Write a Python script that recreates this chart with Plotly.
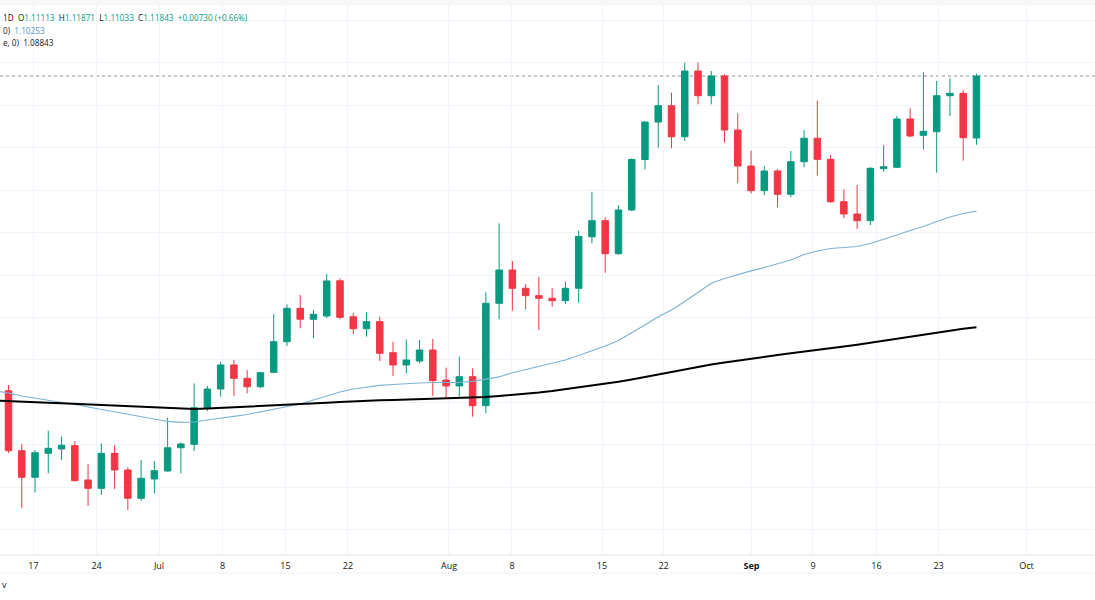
import plotly.graph_objects as go
import pandas as pd

# ---------------- data ----------------
dates = [d.strftime("%Y-%m-%d") for d in pd.bdate_range("2024-06-12", "2024-09-24")]

open_ = [1.07460,
         1.08138, 1.07432, 1.07119, 1.07401, 1.07452, 1.07491, 1.07087, 1.06989, 1.07401, 1.07205,
         1.06872, 1.07099, 1.07193, 1.07467, 1.07507, 1.07938, 1.08158, 1.08441, 1.08284, 1.08185,
         1.08355, 1.08715, 1.09108, 1.08979, 1.09018, 1.09433, 1.09009, 1.08868, 1.08951, 1.08586,
         1.08441, 1.08488, 1.08617, 1.08264, 1.08194, 1.08303, 1.07962, 1.09167, 1.09559, 1.09344,
         1.09257, 1.09226, 1.09198, 1.09344, 1.09951, 1.10140, 1.09751, 1.10266, 1.10860, 1.11301,
         1.11493, 1.11128, 1.11902, 1.11611, 1.11843, 1.11207, 1.10783, 1.10493, 1.10725, 1.10450,
         1.10834, 1.11110, 1.10862, 1.10363, 1.10218, 1.10140, 1.10752, 1.10768, 1.11337, 1.11145,
         1.11187, 1.11611, 1.11639, 1.11113]
high = [1.08220,
        1.08205, 1.07511, 1.07440, 1.07667, 1.07597, 1.07546, 1.07275, 1.07519, 1.07499, 1.07237,
        1.07323, 1.07311, 1.07820, 1.07531, 1.08225, 1.08194, 1.08480, 1.08500, 1.08382, 1.08362,
        1.09038, 1.09155, 1.09265, 1.09088, 1.09512, 1.09460, 1.09056, 1.09061, 1.09009, 1.08715,
        1.08743, 1.08735, 1.08747, 1.08409, 1.08539, 1.08402, 1.09297, 1.10109, 1.09665, 1.09394,
        1.09480, 1.09344, 1.09422, 1.10022, 1.10481, 1.10180, 1.10321, 1.10874, 1.11310, 1.11737,
        1.11646, 1.11999, 1.12004, 1.11902, 1.11863, 1.11404, 1.10964, 1.10783, 1.10745, 1.10960,
        1.11207, 1.11552, 1.10913, 1.10509, 1.10560, 1.10770, 1.11031, 1.11372, 1.11463, 1.11887,
        1.11784, 1.11816, 1.11678, 1.11871]
low = [1.07380,
       1.07405, 1.06754, 1.06938, 1.07166, 1.07323, 1.07070, 1.06781, 1.06910, 1.06981, 1.06734,
       1.06843, 1.06930, 1.07185, 1.07166, 1.07428, 1.07899, 1.08068, 1.08076, 1.08108, 1.08167,
       1.08343, 1.08665, 1.08873, 1.08755, 1.08991, 1.08979, 1.08802, 1.08774, 1.08488, 1.08311,
       1.08343, 1.08461, 1.08076, 1.08049, 1.08068, 1.07832, 1.07872, 1.08979, 1.09080, 1.09096,
       1.08853, 1.09127, 1.09159, 1.09174, 1.09873, 1.09527, 1.09740, 1.10250, 1.10742, 1.10999,
       1.10992, 1.11078, 1.11510, 1.11510, 1.11058, 1.10580, 1.10462, 1.10442, 1.10297, 1.10415,
       1.10768, 1.10669, 1.10350, 1.10168, 1.10042, 1.10089, 1.10716, 1.10760, 1.11121, 1.10980,
       1.10705, 1.11372, 1.10846, 1.11033]
close = [1.08138,
         1.07432, 1.07119, 1.07408, 1.07460, 1.07496, 1.07079, 1.06989, 1.07401, 1.07205, 1.06872,
         1.07107, 1.07197, 1.07467, 1.07511, 1.07938, 1.08158, 1.08441, 1.08284, 1.08185, 1.08350,
         1.08715, 1.09108, 1.08979, 1.09038, 1.09430, 1.09002, 1.08868, 1.08951, 1.08579, 1.08441,
         1.08500, 1.08617, 1.08256, 1.08194, 1.08303, 1.07962, 1.09167, 1.09559, 1.09344, 1.09257,
         1.09226, 1.09198, 1.09344, 1.09954, 1.10140, 1.09751, 1.10266, 1.10860, 1.11301, 1.11493,
         1.11128, 1.11902, 1.11611, 1.11843, 1.11207, 1.10783, 1.10493, 1.10725, 1.10450, 1.10834,
         1.11110, 1.10862, 1.10363, 1.10218, 1.10140, 1.10756, 1.10775, 1.11337, 1.11137, 1.11192,
         1.11611, 1.11639, 1.11117, 1.11843]

ma50 = [1.08135,
        1.08111, 1.08076, 1.08052, 1.08029, 1.07999, 1.07976, 1.07946, 1.07917, 1.07888, 1.07858,
        1.07829, 1.07799, 1.07776, 1.07766, 1.07770, 1.07793, 1.07811, 1.07835, 1.07858, 1.07888,
        1.07917, 1.07946, 1.07982, 1.08029, 1.08076, 1.08123, 1.08158, 1.08182, 1.08200, 1.08211,
        1.08223, 1.08229, 1.08235, 1.08237, 1.08235, 1.08247, 1.08270, 1.08300, 1.08350, 1.08388,
        1.08423, 1.08459, 1.08500, 1.08553, 1.08606, 1.08665, 1.08729, 1.08818, 1.08912, 1.09010,
        1.09088, 1.09188, 1.09294, 1.09403, 1.09459, 1.09506, 1.09548, 1.09589, 1.09630, 1.09677,
        1.09742, 1.09783, 1.09812, 1.09824, 1.09836, 1.09871, 1.09918, 1.09971, 1.10024, 1.10071,
        1.10130, 1.10183, 1.10224, 1.10253]
ma200 = [1.08021,
         1.08017, 1.08011, 1.08005, 1.07997, 1.07991, 1.07984, 1.07976, 1.07970, 1.07962, 1.07952,
         1.07944, 1.07937, 1.07930, 1.07925, 1.07923, 1.07928, 1.07935, 1.07939, 1.07946, 1.07955,
         1.07963, 1.07970, 1.07979, 1.07988, 1.07996, 1.08005, 1.08014, 1.08021, 1.08025, 1.08029,
         1.08034, 1.08037, 1.08041, 1.08047, 1.08052, 1.08058, 1.08064, 1.08076, 1.08088, 1.08102,
         1.08117, 1.08135, 1.08155, 1.08176, 1.08196, 1.08217, 1.08243, 1.08270, 1.08300, 1.08329,
         1.08358, 1.08388, 1.08417, 1.08447, 1.08470, 1.08494, 1.08517, 1.08541, 1.08559, 1.08579,
         1.08597, 1.08617, 1.08638, 1.08659, 1.08680, 1.08702, 1.08726, 1.08749, 1.08773, 1.08798,
         1.08821, 1.08847, 1.08867, 1.08884]

tick_labels = ["17", "24", "Jul", "8", "15", "22", "Aug", "8", "15", "22",
               "<b>Sep</b>", "9", "16", "23", "Oct"]
last_price = 1.11843

# ---------------- layout constants ----------------
W, H = 1095, 600
PLOT_BOTTOM_PX = 555
tick_pos = [2.885, 7.64, 12.35, 17.14, 21.89, 26.60, 34.22, 38.97, 45.76, 50.40,
            57.03, 61.67, 66.46, 71.14, 77.77]
x_range = [0.359, 82.94]
y_range = [1.06204, 1.127377]

GREEN = "#089981"
RED = "#F23645"
BLUE = "#7FB2D2"
DARK = "#131722"
GRID = "#F0F3FA"

idx = list(range(len(dates)))

fig = go.Figure()
fig.add_trace(go.Scatter(x=idx, y=ma50, mode="lines",
                         line=dict(color=BLUE, width=1.2), hoverinfo="skip", showlegend=False))
fig.add_trace(go.Scatter(x=idx, y=ma200, mode="lines",
                         line=dict(color="#000000", width=2), hoverinfo="skip", showlegend=False))
fig.add_trace(go.Candlestick(
    x=idx, open=open_, high=high, low=low, close=close,
    increasing=dict(line=dict(color=GREEN, width=1), fillcolor=GREEN),
    decreasing=dict(line=dict(color=RED, width=1), fillcolor=RED),
    whiskerwidth=0, showlegend=False, hoverinfo="skip"))

# dotted last price line
fig.add_shape(type="line", xref="paper", x0=0, x1=1, yref="y", y0=last_price, y1=last_price,
              line=dict(color="#8A8F99", width=1, dash="dot"), layer="below")
# axis separator lines
fig.add_shape(type="line", xref="paper", x0=0, x1=1, yref="paper", y0=0, y1=0,
              line=dict(color="#E0E3EB", width=1))
fig.add_shape(type="line", xref="paper", x0=0, x1=1, yref="paper",
              y0=-18 / PLOT_BOTTOM_PX, y1=-18 / PLOT_BOTTOM_PX,
              line=dict(color="#EEF0F4", width=1))
# faint header band at the top
fig.add_shape(type="rect", xref="paper", x0=0, x1=1, yref="paper",
              y0=1 - 5 / PLOT_BOTTOM_PX, y1=1, fillcolor="#F7F7F8", line=dict(width=0))

FONT = "Open Sans"
LEG_SIZE = 8.2


def g(v):
    return f"<span style='color:{GREEN}'>{v}</span>"


line1 = ("1D  O" + g("1.11113") + "  H" + g("1.11871") + "  L" + g("1.11033") +
         "  C" + g("1.11843") + "  " + g("+0.00730 (+0.66%)"))
line2 = "0)  <span style='color:#4E97C9'>1.10253</span>"
line3 = "e, 0)  1.08843"

for txt, ypx in [(line1, 17), (line2, 30), (line3, 43)]:
    fig.add_annotation(text=txt, xref="paper", yref="paper", x=1 / W, y=1 - ypx / PLOT_BOTTOM_PX,
                       xanchor="left", yanchor="middle", showarrow=False,
                       font=dict(family=FONT, size=LEG_SIZE, color=DARK))
fig.add_annotation(text="v", xref="paper", yref="paper", x=0, y=-(585 - PLOT_BOTTOM_PX) / PLOT_BOTTOM_PX,
                   xanchor="left", yanchor="middle", showarrow=False,
                   font=dict(family=FONT, size=9, color=DARK))

fig.update_layout(
    width=W, height=H,
    margin=dict(l=0, r=0, t=0, b=H - PLOT_BOTTOM_PX),
    paper_bgcolor="white", plot_bgcolor="white",
    showlegend=False,
    xaxis=dict(range=x_range, tickmode="array", tickvals=tick_pos, ticktext=tick_labels,
               showgrid=True, gridcolor=GRID, gridwidth=1, zeroline=False, ticks="",
               ticklabelstandoff=4,
               tickfont=dict(family=FONT, size=9, color=DARK), rangeslider=dict(visible=False),
               fixedrange=True),
    yaxis=dict(range=y_range, showticklabels=False, showgrid=True, gridcolor=GRID, gridwidth=1,
               tick0=1.0, dtick=0.005, zeroline=False, ticks="", fixedrange=True),
)

fig.write_html("out.html", config={"displayModeBar": False})
